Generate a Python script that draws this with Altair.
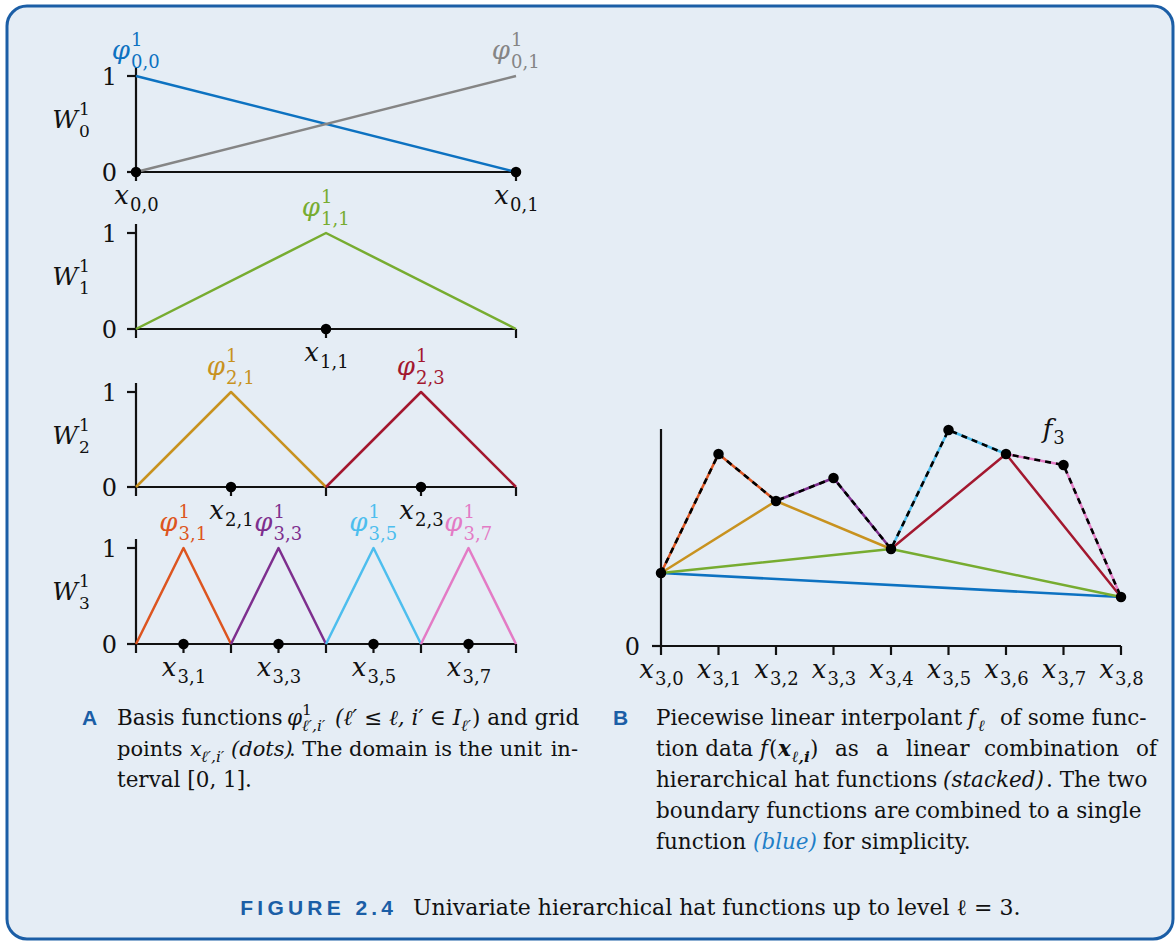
import altair as alt
import pandas as pd

# ---------------- data ----------------
# Panel A: hierarchical hat functions, index i on level l (centre i / 2**l)
level_indices = [[0, 1], [1], [1, 3], [1, 3, 5, 7]]
level_colors = [["#0d72c1", "#858585"], ["#77ac30"], ["#c8921f", "#a3182f"],
                ["#dd5520", "#7e2f8e", "#4dbeee", "#e37bc5"]]

# Panel B: function values f(x_{3,k}) on the level-3 grid
grid_k = [0, 1, 2, 3, 4, 5, 6, 7, 8]
f_values = [0.73, 1.92, 1.45, 1.68, 0.97, 2.16, 1.92, 1.81, 0.49]
# pieces of the hierarchical interpolant: grid indices of each hat and its colour
piece_knots = [[0, 8], [0, 4, 8], [0, 2, 4], [4, 6, 8],
               [0, 1, 2], [2, 3, 4], [4, 5, 6], [6, 7, 8]]
piece_colors = ["#0d72c1", "#77ac30", "#c8921f", "#a3182f",
                "#dd5520", "#7e2f8e", "#4dbeee", "#e37bc5"]

# caption text
caption_A = ["Basis functions", "(ℓ′ ≤ ℓ, i′ ∈ I", ") and grid",
             "points", "(dots)", ". The domain is the unit", "in-", "terval [0, 1]."]
caption_B = ["Piecewise linear interpolant", "of some func-",
             "tion data", "as", "a", "linear", "combination", "of",
             "hierarchical hat functions", "(stacked)", ". The two",
             "boundary functions are", "combined to a single",
             "function", "(blue)", "for simplicity."]
figure_tag = "F\u2009I\u2009G\u2009U\u2009R\u2009E\u2002\u20092\u2009.\u20094"
figure_text = "Univariate hierarchical hat functions up to level ℓ = 3."

# ---------------- style / layout ----------------
OX, OY = 7, 6                      # origin of the framed view on the page
SERIF = "DejaVu Serif"
SANS = "Liberation Sans"
INK = "#111111"
FRAME = "#1b5ea6"
PAPER = "#e5edf5"
AXW = 2.2
LW = 2.5

A_X = (136, 516)
row_y0 = [172, 329, 487, 644]
row_y1 = [76, 233, 392, 548]
B_X = (661, 1121)
B_Y = (646, 429)
B_TOP = 2.17


def scales(xdom, xpx, ydom, ypx):
    xs = alt.Scale(domain=xdom, range=[xpx[0] - OX, xpx[1] - OX], nice=False, zero=False)
    ys = alt.Scale(domain=ydom, range=[ypx[0] - OY, ypx[1] - OY], nice=False, zero=False)
    return xs, ys


def xy(xs, ys):
    return dict(x=alt.X("x:Q", scale=xs, axis=None), y=alt.Y("y:Q", scale=ys, axis=None))


def line(points, color, xs, ys, width=LW, dash=None):
    kw = dict(color=color, strokeWidth=width, strokeJoin="round")
    if dash:
        kw["strokeDash"] = dash
    df = pd.DataFrame(points, columns=["x", "y"])
    return alt.Chart(df).mark_line(**kw).encode(**xy(xs, ys))


def dots(xv, yv, xs, ys, size=110):
    df = pd.DataFrame({"x": xv, "y": yv})
    return alt.Chart(df).mark_circle(size=size, color="black", opacity=1).encode(**xy(xs, ys))


def text(xv, yv, t, xs, ys, size, style="normal", weight="normal", color=INK,
         align="center", dx=0, dy=0, font=SERIF):
    df = pd.DataFrame({"x": xv, "y": yv, "t": t})
    return alt.Chart(df).mark_text(
        font=font, fontSize=size, fontStyle=style, fontWeight=weight, color=color,
        align=align, baseline="alphabetic", dx=dx, dy=dy
    ).encode(text="t:N", **xy(xs, ys))


def frame_axes(xs, ys, xmax, ytop, ticks, ytick_vals, top_extra):
    out = []
    out.append(alt.Chart(pd.DataFrame({"x": [0], "x2": [xmax], "y": [0]}))
               .mark_rule(color=INK, strokeWidth=AXW)
               .encode(x2="x2:Q", **xy(xs, ys)))
    out.append(alt.Chart(pd.DataFrame({"x": [0], "y": [0], "y2": [ytop]}))
               .mark_rule(color=INK, strokeWidth=AXW, y2Offset=-top_extra)
               .encode(y2="y2:Q", **xy(xs, ys)))
    out.append(alt.Chart(pd.DataFrame({"x": [0] * len(ytick_vals), "y": ytick_vals}))
               .mark_rule(color=INK, strokeWidth=AXW, x2Offset=-9)
               .encode(x2=alt.X2("x:Q"), **xy(xs, ys)))
    out.append(alt.Chart(pd.DataFrame({"x": ticks, "y": [0] * len(ticks)}))
               .mark_rule(color=INK, strokeWidth=AXW, y2Offset=9)
               .encode(y2=alt.Y2("y:Q"), **xy(xs, ys)))
    return out


def scripted(xv, yv, base, sup, sub, xs, ys, color, bx, dy_base, dy_sup, dy_sub,
             size=26, ssize=18):
    n = len(xv)
    out = [text(xv, yv, [base] * n, xs, ys, size, style="italic", color=color,
                align="right", dx=bx, dy=dy_base)]
    if sup is not None:
        out.append(text(xv, yv, sup, xs, ys, ssize, color=color, align="left",
                        dx=bx + 1, dy=dy_sup))
    out.append(text(xv, yv, sub, xs, ys, ssize, color=color, align="left",
                    dx=bx + 1, dy=dy_sub))
    return out


layers = []

# ---------------- panel A ----------------
for lev, (idx, cols) in enumerate(zip(level_indices, level_colors)):
    xs, ys = scales([0, 1], A_X, [0, 1], (row_y0[lev], row_y1[lev]))
    n = 2 ** lev
    ticks = [k / n for k in range(n + 1)]
    layers += frame_axes(xs, ys, 1, 1, ticks, [0, 1], 9)
    centres = []
    for i, c in zip(idx, cols):
        if lev == 0:
            pts = [(0, 1), (1, 0)] if i == 0 else [(0, 0), (1, 1)]
            centre = float(i)
        else:
            centre = i / n
            pts = [((i - 1) / n, 0), (centre, 1), ((i + 1) / n, 0)]
        centres.append(centre)
        layers.append(line(pts, c, xs, ys))
    layers.append(dots(centres, [0] * len(centres), xs, ys))
    # tick labels
    layers.append(text([0, 0], [0, 1], ["0", "1"], xs, ys, 24, align="right", dx=-19, dy=9))
    # row label W_l^1
    layers += scripted([0], [0.5], "W", ["1"], [str(lev)], xs, ys, INK,
                       bx=-58, dy_base=4, dy_sup=-9, dy_sub=13, size=25, ssize=17)
    # basis function labels and grid point labels
    for i, c, centre in zip(idx, cols, centres):
        layers += scripted([centre], [1], "φ", ["1"], [f"{lev},{i}"], xs, ys, c,
                           bx=-6, dy_base=-17, dy_sup=-30, dy_sub=-8)
        layers += scripted([centre], [0], "x", None, [f"{lev},{i}"], xs, ys, INK,
                           bx=-7, dy_base=32, dy_sup=0, dy_sub=39)

# ---------------- panel B ----------------
xs, ys = scales([0, 8], B_X, [0, B_TOP], B_Y)
layers += frame_axes(xs, ys, 8, B_TOP, grid_k, [0], 0)
for knots, c in zip(piece_knots, piece_colors):
    layers.append(line([(k, f_values[k]) for k in knots], c, xs, ys))
layers.append(line(list(zip(grid_k, f_values)), "black", xs, ys, width=2.6, dash=[6, 5]))
layers.append(dots(grid_k, f_values, xs, ys))
layers.append(text([0], [0], ["0"], xs, ys, 24, align="right", dx=-21, dy=9))
layers += scripted(grid_k, [0] * 9, "x", None, [f"3,{k}" for k in grid_k], xs, ys, INK,
                   bx=-7, dy_base=32, dy_sup=0, dy_sub=39)
layers += scripted([6.7], [2.08], "f", None, ["3"], xs, ys, INK,
                   bx=6, dy_base=0, dy_sup=0, dy_sub=6)

# ---------------- captions ----------------
FS = 21.5   # caption font size
FS2 = 21    # slightly tighter setting for the second line of caption A
SS = 15.5   # caption script size


def ctext(x, y, t, size=FS, style="normal", weight="normal", color=INK,
          align="left", font=SERIF):
    df = pd.DataFrame({"t": [t]})
    return alt.Chart(df).mark_text(
        font=font, fontSize=size, fontStyle=style, fontWeight=weight, color=color,
        align=align, baseline="alphabetic"
    ).encode(x=alt.value(x - OX), y=alt.value(y - OY), text="t:N")


L1, L2, L3, L4, L5 = 725, 756, 787, 818, 849
RB = 1157   # right margin of the B column
layers += [
    ctext(82, L1, "A", size=21, weight="bold", color=FRAME, font=SANS),
    ctext(117, L1, caption_A[0]),
    ctext(287, L1, "φ", style="italic"),
    ctext(302, L1 - 10, "1", size=SS),
    ctext(302, L1 + 6, "ℓ′,i′", size=SS, style="italic"),
    ctext(335, L1, caption_A[1], style="italic"),
    ctext(461, L1 + 6, "ℓ′", size=SS, style="italic"),
    ctext(472, L1, caption_A[2]),
    ctext(117, L2, caption_A[3], size=FS2),
    ctext(190, L2, "x", size=FS2, style="italic"),
    ctext(201, L2 + 6, "ℓ′,i′", size=SS, style="italic"),
    ctext(231, L2, caption_A[4], size=FS2, style="italic"),
    ctext(289, L2, caption_A[5], size=FS2),
    ctext(578, L2, caption_A[6], size=FS2, align="right"),
    ctext(117, L3, caption_A[7]),

    ctext(613, L1, "B", size=21, weight="bold", color=FRAME, font=SANS),
    ctext(656, L1, caption_B[0]),
    ctext(968, L1, "f", style="italic"),
    ctext(978, L1 + 6, "ℓ", size=SS, style="italic"),
    ctext(1000, L1, caption_B[1]),
    ctext(656, L2, caption_B[2]),
    ctext(760, L2, "f", style="italic"),
    ctext(769, L2, "("),
    ctext(778, L2, "x", style="italic", weight="bold"),
    ctext(792, L2 + 6, "ℓ,i", size=SS, style="italic", weight="bold"),
    ctext(810, L2, ")"),
    ctext(835, L2, caption_B[3]),
    ctext(876, L2, caption_B[4]),
    ctext(906, L2, caption_B[5]),
    ctext(984, L2, caption_B[6]),
    ctext(RB, L2, caption_B[7], align="right"),
    ctext(656, L3, caption_B[8]),
    ctext(943, L3, caption_B[9], style="italic"),
    ctext(1046, L3, caption_B[10]),
    ctext(656, L4, caption_B[11]),
    ctext(915, L4, caption_B[12]),
    ctext(656, L5, caption_B[13]),
    ctext(753, L5, caption_B[14], style="italic", color="#1f7fc8"),
    ctext(823, L5, caption_B[15]),

    ctext(393, 915, figure_tag, size=21, weight="bold", color=FRAME, align="right", font=SANS),
    ctext(413, 915, figure_text, size=22),
]

chart = (
    alt.layer(*layers)
    .resolve_scale(x="independent", y="independent")
    .properties(width=1166, height=933,
                padding={"left": OX, "top": OY, "right": 3, "bottom": 4},
                autosize=alt.AutoSizeParams(type="none"),
                background="white")
    .configure_view(fill=PAPER, stroke=FRAME, strokeWidth=3, cornerRadius=20)
)

chart.save("out.html", embed_options={"renderer": "svg", "actions": False})
